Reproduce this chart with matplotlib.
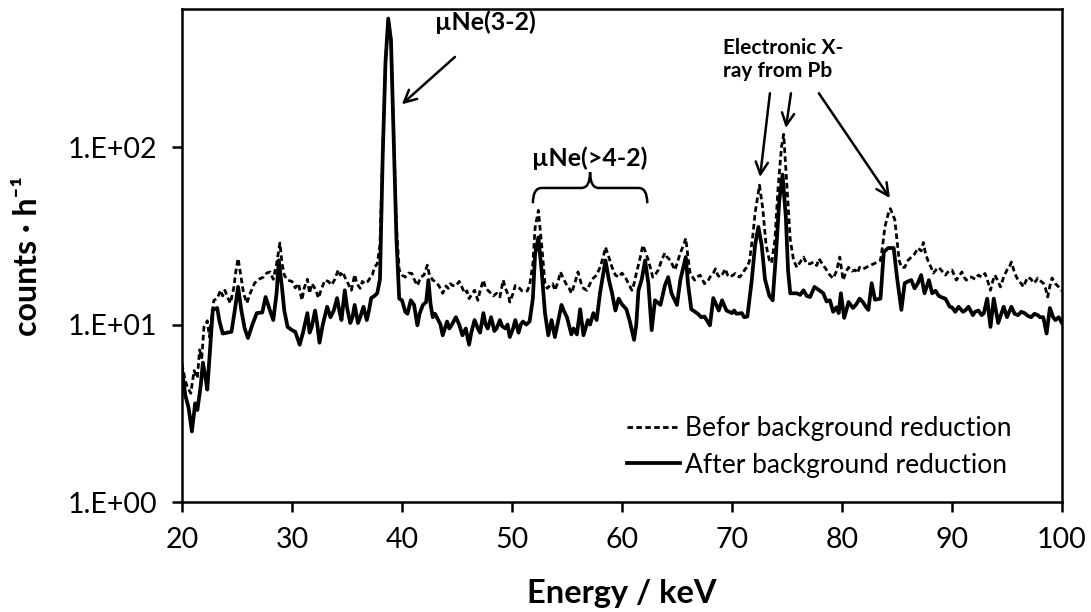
import matplotlib
matplotlib.use("Agg")
import matplotlib.pyplot as plt
from matplotlib.path import Path
from matplotlib.patches import PathPatch
from matplotlib.ticker import FixedLocator, FuncFormatter, NullLocator
import matplotlib.transforms as mtransforms

plt.rcParams['font.family'] = ['Lato', 'DejaVu Sans']

# ---------------- data ----------------
energy_after = [20.0, 20.3, 20.6, 20.9, 21.2, 21.4, 21.7, 21.9, 22.1, 22.3, 22.6, 22.8, 23.2, 23.4, 23.7,
                24.1, 24.5, 24.8, 25.1, 25.4, 25.7, 26.0, 26.4, 26.8, 27.3, 27.6, 28.0, 28.3, 28.6, 28.8,
                29.1, 29.3, 29.6, 30.0, 30.3, 30.7, 31.0, 31.4, 31.6, 31.8, 32.1, 32.3, 32.5, 32.8, 33.2,
                33.5, 33.8, 34.1, 34.3, 34.5, 34.8, 35.0, 35.3, 35.5, 35.7, 36.0, 36.2, 36.5, 36.8, 37.0,
                37.2, 37.5, 37.75, 38.0, 38.25, 38.5, 38.75, 39.0, 39.25, 39.5, 39.75, 40.0, 40.3, 40.5,
                40.8, 41.1, 41.4, 41.6, 41.9, 42.2, 42.4, 42.6, 42.8, 43.0, 43.3, 43.5, 43.7, 44.1, 44.3,
                44.5, 44.9, 45.2, 45.5, 45.8, 46.1, 46.3, 46.6, 46.9, 47.1, 47.4, 47.6, 47.8, 48.1, 48.4,
                48.6, 48.9, 49.1, 49.4, 49.6, 49.8, 50.1, 50.3, 50.6, 50.8, 51.0, 51.3, 51.6, 51.9, 52.1,
                52.4, 52.7, 53.0, 53.3, 53.6, 53.9, 54.2, 54.5, 54.7, 55.0, 55.4, 55.6, 55.9, 56.2, 56.5,
                56.9, 57.1, 57.4, 57.7, 58.0, 58.5, 58.8, 59.1, 59.4, 59.7, 60.0, 60.4, 60.7, 61.1, 61.3,
                61.5, 61.8, 62.1, 62.4, 62.7, 63.0, 63.5, 63.9, 64.2, 64.5, 65.0, 65.3, 65.8, 66.0, 66.3,
                66.9, 67.2, 67.5, 68.0, 68.3, 68.8, 69.1, 69.5, 70.0, 70.2, 70.4, 70.9, 71.1, 71.4, 71.8,
                72.1, 72.4, 72.7, 73.0, 73.4, 73.7, 74.0, 74.3, 74.6, 74.9, 75.1, 75.3, 75.6, 75.9, 76.2,
                76.5, 76.8, 77.1, 77.5, 78.0, 78.3, 78.6, 78.9, 79.2, 79.5, 79.7, 79.9, 80.2, 80.6, 81.0,
                81.3, 81.6, 81.9, 82.2, 82.4, 82.7, 83.0, 83.5, 83.8, 84.2, 84.7, 85.0, 85.4, 85.7, 86.0,
                86.3, 86.6, 86.9, 87.2, 87.5, 87.9, 88.2, 88.5, 88.8, 89.1, 89.4, 89.8, 90.0, 90.3, 90.6,
                91.0, 91.2, 91.5, 91.9, 92.1, 92.4, 92.7, 92.9, 93.2, 93.5, 93.8, 94.2, 94.7, 95.0, 95.4,
                95.7, 96.0, 96.3, 96.6, 96.9, 97.2, 97.5, 97.8, 98.0, 98.3, 98.6, 98.9, 99.2, 99.4, 99.7,
                100.0]
counts_after = [5.6, 4.0, 3.4, 2.5, 3.6, 3.3, 4.5, 6.1, 5.2, 4.3, 8.0, 12.1, 12.4, 10.5, 8.9,
                9.0, 9.1, 12.0, 16.3, 12.0, 9.5, 8.4, 10.0, 11.6, 11.7, 14.3, 12.0, 10.6, 15.0, 23.0,
                16.0, 12.0, 9.7, 9.3, 9.1, 7.7, 9.0, 11.6, 9.0, 9.7, 12.0, 10.0, 7.9, 10.0, 12.6,
                11.0, 12.0, 14.1, 12.0, 10.6, 15.6, 12.5, 10.2, 11.0, 12.9, 10.2, 11.0, 12.6, 10.6, 12.0,
                14.1, 14.5, 15.0, 18.0, 90.0, 300.0, 530.0, 400.0, 110.0, 30.0, 14.0, 13.7, 11.8, 11.5,
                13.7, 12.9, 9.9, 11.5, 12.9, 13.4, 17.8, 13.0, 11.0, 11.5, 10.6, 10.0, 8.7, 10.4, 9.5,
                9.9, 11.0, 10.0, 8.7, 9.5, 7.7, 9.0, 10.6, 9.5, 9.0, 11.6, 10.0, 9.5, 11.0, 9.2,
                9.5, 10.6, 9.8, 9.5, 10.0, 8.5, 9.5, 10.6, 9.0, 10.0, 10.4, 10.0, 10.4, 14.0, 25.0,
                31.0, 20.0, 11.6, 8.7, 10.6, 8.5, 10.5, 12.9, 12.0, 11.0, 8.8, 9.5, 8.8, 12.2, 8.7,
                10.6, 10.0, 11.6, 10.6, 15.0, 23.0, 18.0, 15.0, 12.0, 14.0, 13.0, 12.2, 10.5, 8.2, 10.0,
                15.6, 18.0, 23.0, 17.0, 9.3, 13.7, 12.9, 16.6, 18.5, 15.0, 12.9, 17.8, 24.0, 17.0, 12.2,
                11.5, 11.0, 11.1, 9.9, 14.1, 12.0, 13.7, 12.0, 11.6, 12.0, 11.5, 11.6, 11.0, 11.1, 17.8,
                28.0, 35.5, 28.0, 18.0, 14.5, 13.7, 25.0, 50.0, 70.0, 40.0, 20.0, 15.0, 15.0, 15.0, 14.7,
                15.6, 14.5, 14.3, 16.3, 15.5, 15.0, 13.5, 13.7, 11.8, 12.5, 11.6, 15.0, 10.9, 13.4, 12.4,
                13.0, 14.0, 13.4, 12.5, 12.1, 17.1, 13.8, 14.0, 25.6, 27.0, 27.0, 18.5, 12.1, 17.1, 17.5,
                17.8, 16.0, 17.1, 19.0, 15.0, 17.8, 15.0, 15.5, 14.5, 14.2, 14.0, 12.6, 12.5, 11.8, 12.6,
                11.8, 12.0, 12.6, 11.3, 11.8, 12.0, 11.3, 11.6, 14.0, 9.7, 14.0, 10.2, 12.6, 11.0, 12.6,
                11.5, 11.3, 11.8, 11.6, 11.2, 11.0, 11.5, 11.3, 11.0, 11.0, 8.9, 12.4, 11.0, 10.6, 11.0,
                10.2]

energy_before = [20.0, 20.3, 20.5, 20.8, 21.1, 21.4, 21.6, 21.8, 22.0, 22.3, 22.5, 22.7, 22.9, 23.2, 23.5,
                 23.7, 23.9, 24.2, 24.4, 24.7, 24.9, 25.1, 25.4, 25.6, 25.9, 26.2, 26.6, 27.0, 27.4, 27.7,
                 28.0, 28.3, 28.6, 28.9, 29.1, 29.3, 29.6, 30.0, 30.3, 30.6, 30.9, 31.1, 31.4, 31.6, 31.8,
                 32.0, 32.2, 32.4, 32.7, 33.0, 33.3, 33.6, 33.9, 34.2, 34.4, 34.6, 34.9, 35.1, 35.4, 35.7,
                 35.9, 36.2, 36.4, 36.6, 36.9, 37.1, 37.3, 37.5, 37.75, 38.0, 38.25, 38.5, 38.75, 39.0, 39.25,
                 39.5, 39.75, 40.0, 40.3, 40.6, 40.9, 41.1, 41.4, 41.7, 42.0, 42.3, 42.5, 42.8, 43.0, 43.3,
                 43.5, 43.7, 44.0, 44.2, 44.4, 44.6, 44.9, 45.2, 45.4, 45.7, 45.9, 46.1, 46.4, 46.6, 46.9,
                 47.1, 47.4, 47.6, 47.8, 48.1, 48.3, 48.6, 48.9, 49.2, 49.4, 49.7, 49.8, 50.1, 50.3, 50.5,
                 50.7, 50.9, 51.2, 51.4, 51.6, 51.9, 52.1, 52.4, 52.7, 53.0, 53.2, 53.5, 53.7, 53.9, 54.2,
                 54.4, 54.7, 55.0, 55.2, 55.4, 55.7, 56.0, 56.3, 56.5, 56.8, 57.1, 57.4, 57.7, 58.0, 58.3,
                 58.5, 58.8, 59.1, 59.4, 59.7, 60.0, 60.3, 60.6, 60.9, 61.1, 61.3, 61.6, 61.9, 62.1, 62.4,
                 62.8, 63.0, 63.3, 63.6, 63.9, 64.1, 64.4, 64.8, 65.0, 65.3, 65.6, 65.8, 66.0, 66.2, 66.6,
                 66.8, 67.1, 67.3, 67.5, 67.8, 68.0, 68.3, 68.5, 68.7, 68.9, 69.2, 69.4, 69.6, 69.8, 70.1,
                 70.3, 70.5, 70.7, 71.0, 71.2, 71.4, 71.6, 71.9, 72.1, 72.5, 72.8, 73.1, 73.4, 73.6, 73.9,
                 74.2, 74.5, 74.7, 75.0, 75.3, 75.6, 75.9, 76.2, 76.5, 76.8, 77.1, 77.4, 77.7, 77.9, 78.2,
                 78.6, 78.9, 79.2, 79.5, 79.8, 80.1, 80.4, 80.6, 80.9, 81.2, 81.4, 81.6, 81.9, 82.2, 82.5,
                 82.9, 83.2, 83.5, 83.7, 83.9, 84.2, 84.4, 84.8, 85.0, 85.2, 85.4, 85.7, 86.0, 86.3, 86.6,
                 86.9, 87.2, 87.4, 87.6, 87.9, 88.1, 88.3, 88.6, 88.8, 89.1, 89.4, 89.7, 90.0, 90.2, 90.4,
                 90.7, 90.9, 91.1, 91.3, 91.6, 91.8, 92.1, 92.4, 92.7, 93.0, 93.2, 93.5, 93.7, 93.9, 94.2,
                 94.4, 94.7, 95.0, 95.2, 95.4, 95.7, 96.0, 96.3, 96.5, 96.7, 96.9, 97.2, 97.4, 97.6, 97.8,
                 98.1, 98.3, 98.5, 98.7, 98.9, 99.1, 99.4, 99.7, 100.0]
counts_before = [6.0, 4.8, 4.45, 4.1, 5.5, 5.0, 7.2, 6.5, 9.7, 10.5, 8.5, 11.0, 13.7, 14.0, 15.6,
                 14.5, 15.6, 14.0, 13.2, 16.0, 20.0, 23.6, 18.0, 15.0, 13.2, 15.0, 17.1, 18.0, 18.5, 19.5,
                 19.8, 18.0, 22.0, 28.8, 22.0, 19.0, 17.8, 17.5, 16.1, 17.0, 13.7, 16.0, 18.0, 15.0, 17.0,
                 16.3, 15.5, 14.1, 16.0, 17.8, 17.5, 16.7, 18.0, 20.3, 19.0, 19.8, 18.0, 17.0, 15.6, 19.1,
                 17.0, 16.0, 17.5, 17.0, 17.5, 18.3, 19.0, 21.0, 22.0, 28.0, 95.0, 300.0, 530.0, 400.0, 115.0,
                 35.0, 20.3, 19.0, 18.5, 19.5, 19.4, 18.0, 16.6, 18.5, 19.0, 21.6, 19.0, 17.8, 17.5, 16.7,
                 16.0, 15.0, 16.5, 16.0, 17.0, 16.6, 16.5, 17.5, 16.5, 15.0, 15.5, 14.0, 15.0, 15.6, 13.7,
                 15.5, 17.8, 16.0, 15.6, 15.0, 14.5, 15.0, 14.3, 17.8, 16.0, 14.5, 13.4, 15.0, 16.6, 16.5,
                 16.0, 15.5, 15.3, 15.5, 16.6, 22.0, 35.0, 44.0, 28.0, 17.0, 16.0, 16.7, 17.0, 15.6, 17.5,
                 19.8, 18.0, 16.6, 16.0, 15.0, 17.0, 19.8, 17.0, 16.0, 15.6, 17.0, 18.3, 19.0, 21.0, 24.0,
                 27.3, 24.0, 21.0, 19.0, 18.5, 19.5, 18.5, 17.0, 15.6, 17.0, 19.4, 23.0, 28.0, 26.0, 23.0,
                 18.5, 19.0, 20.3, 23.0, 25.3, 24.0, 23.0, 20.3, 22.0, 25.3, 28.0, 30.6, 24.0, 19.4, 17.8,
                 18.5, 19.0, 18.0, 17.0, 17.5, 18.5, 19.5, 20.6, 19.0, 18.5, 19.5, 20.6, 19.0, 18.5, 19.0,
                 19.4, 18.8, 18.5, 19.5, 20.6, 21.0, 23.0, 32.0, 42.5, 61.0, 45.0, 28.0, 23.0, 22.2, 30.0,
                 60.0, 100.0, 118.0, 60.0, 30.0, 23.0, 21.0, 22.5, 24.0, 22.0, 22.0, 22.5, 21.5, 23.5, 22.0,
                 20.3, 19.0, 18.2, 20.0, 24.0, 17.8, 20.0, 21.0, 20.0, 20.3, 19.5, 21.0, 20.5, 21.0, 21.5,
                 22.0, 22.5, 23.0, 28.0, 35.5, 42.0, 45.0, 39.0, 30.0, 23.0, 21.0, 21.0, 23.0, 24.0, 25.0,
                 27.0, 26.0, 29.0, 25.0, 22.2, 21.0, 19.5, 20.5, 21.0, 20.0, 19.0, 20.0, 20.3, 19.0, 17.8,
                 19.0, 19.8, 18.5, 17.8, 18.5, 18.5, 18.0, 19.0, 18.5, 19.4, 18.0, 15.6, 17.5, 19.0, 17.5,
                 16.3, 18.5, 20.3, 21.0, 22.5, 19.5, 17.8, 17.0, 16.3, 17.5, 18.5, 18.0, 17.1, 17.5, 18.3,
                 17.5, 17.1, 16.0, 14.3, 16.5, 18.3, 17.0, 16.3, 15.5]

x_ticks = [20, 30, 40, 50, 60, 70, 80, 90, 100]
y_ticks = [1, 10, 100]

# ---------------- figure ----------------
fig = plt.figure(figsize=(10.91, 6.12), dpi=100)
ax = fig.add_axes([0.1668, 0.1797, 0.8066, 0.8056])

ax.plot(energy_before, counts_before, color='black', lw=2.0, ls=(0, (2.0, 1.2)),
        label='Befor background reduction')
ax.plot(energy_after, counts_after, color='black', lw=2.7, ls='-',
        label='After background reduction')

ax.set_yscale('log')
ax.set_xlim(20, 100)
ax.set_ylim(1, 600)
ax.xaxis.set_major_locator(FixedLocator(x_ticks))
ax.yaxis.set_major_locator(FixedLocator(y_ticks))
ax.yaxis.set_minor_locator(NullLocator())
ax.xaxis.set_minor_locator(NullLocator())


def sci_fmt(v, pos):
    import math
    e = int(round(math.log10(v)))
    return "1.E+%02d" % e


ax.yaxis.set_major_formatter(FuncFormatter(sci_fmt))
ax.tick_params(axis='both', direction='out', length=7, width=1.8, labelsize=20.5)
ax.tick_params(axis='x', pad=11)
ax.tick_params(axis='y', pad=11)
for s in ax.spines.values():
    s.set_linewidth(1.8)

ax.set_xlabel('Energy / keV', fontsize=23.5, fontweight='bold', labelpad=19)
ax.set_ylabel('counts \u00b7 h\u207b\u00b9', fontsize=23, fontweight='bold', labelpad=18)

leg = ax.legend(loc='lower right', bbox_to_anchor=(0.955, 0.028), frameon=False, fontsize=19,
                handlelength=2.0, handletextpad=0.2, labelspacing=0.45, borderaxespad=0)

# ---------------- annotations ----------------
ax.text(47.6, 506, '\u00b5Ne(3-2)', fontsize=18, fontweight='bold', ha='center', va='center')
ax.annotate('', xy=(39.8, 170), xytext=(45.0, 330),
            arrowprops=dict(arrowstyle='->', lw=1.8, color='black', mutation_scale=22))

ax.text(57.1, 86.7, '\u00b5Ne(>4-2)', fontsize=18, fontweight='bold', ha='center', va='center')

# curly brace (x in data units, y in axes fraction)
trans = mtransforms.blended_transform_factory(ax.transData, ax.transAxes)
x0, x1 = 51.9, 62.3
xm = 0.5 * (x0 + x1)
yb, ym, yt = 0.606, 0.637, 0.669
r = 0.8
verts = [(x0, yb), (x0, ym), (x0 + r, ym),
         (xm - r, ym), (xm, ym), (xm, yt),
         (xm, ym), (xm + r, ym),
         (x1 - r, ym), (x1, ym), (x1, yb)]
codes = [Path.MOVETO, Path.CURVE3, Path.CURVE3,
         Path.LINETO, Path.CURVE3, Path.CURVE3,
         Path.CURVE3, Path.CURVE3,
         Path.LINETO, Path.CURVE3, Path.CURVE3]
ax.add_patch(PathPatch(Path(verts, codes), transform=trans, fill=False, lw=1.8, color='black'))

ax.text(69.18, 310, 'Electronic X-\nray from Pb', fontsize=15, fontweight='bold',
        ha='left', va='center', linespacing=1.2)
for (tx, ty), (hx, hy) in [((73.45, 201), (72.55, 67.8)),
                           ((75.36, 201), (74.9, 128)),
                           ((77.9, 201), (84.36, 51.6))]:
    ax.annotate('', xy=(hx, hy), xytext=(tx, ty),
                arrowprops=dict(arrowstyle='->', lw=1.8, color='black', mutation_scale=22,
                                shrinkA=0, shrinkB=0))

fig.savefig('out.png', dpi=100)
